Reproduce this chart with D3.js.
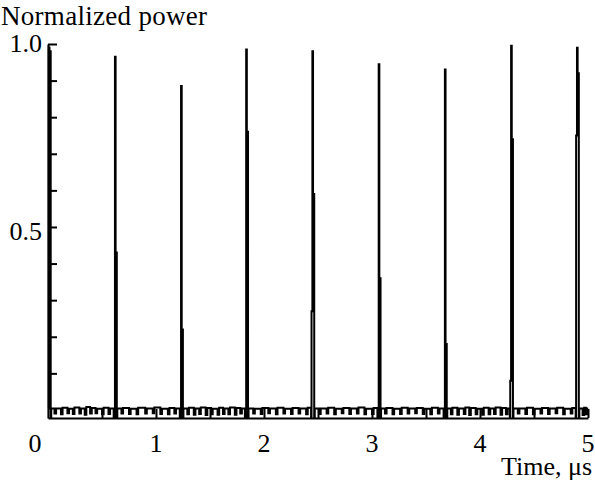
<!DOCTYPE html>
<html>
<head>
<meta charset="utf-8">
<script src="https://cdn.jsdelivr.net/npm/d3@7"></script>
</head>
<body style="margin:0">
<svg id="chart" width="595" height="487" style="font-family: 'Liberation Serif', serif; background: #fff"></svg>
<script>
// pulses (time in us, normalized power)
const pulseTimes = [0.008, 0.620, 1.232, 1.835, 2.448, 3.062, 3.675, 4.288, 4.898];
const pulsePeaks = [0.990, 0.965, 0.885, 0.985, 0.980, 0.945, 0.930, 0.995, 0.990];
const pulseTrail = [0.980, 0.430, 0.220, 0.760, 0.590, 0.360, 0.180, 0.740, 0.920];
const pulseLead  = [0, 0, 0, 0, 0.270, 0, 0, 0.080, 0.750];

// small noise dips along the baseline
const dipTimes = [0.06,0.12,0.18,0.23,0.29,0.34,0.39,0.44,0.50,0.56,
  0.68,0.75,0.82,0.90,0.97,1.04,1.11,1.17,
  1.29,1.35,1.40,1.46,1.51,1.57,1.62,1.67,1.73,1.78,
  1.90,1.97,2.04,2.11,2.18,2.25,2.32,2.39,
  2.51,2.58,2.65,2.72,2.79,2.86,2.93,3.00,
  3.12,3.19,3.26,3.33,3.40,3.47,3.54,3.61,
  3.73,3.79,3.85,3.90,3.96,4.02,4.08,4.13,4.19,4.24,
  4.35,4.42,4.49,4.56,4.63,4.70,4.77,4.84,
  4.95,4.98];
const dipDepths = [-0.010,-0.012,-0.009,-0.011,-0.010,-0.013,-0.010,-0.009,-0.012,-0.011,
  -0.010,-0.011,-0.012,-0.010,-0.009,-0.011,-0.012,-0.010,
  -0.012,-0.013,-0.011,-0.014,-0.012,-0.013,-0.011,-0.012,-0.013,-0.010,
  -0.010,-0.011,-0.009,-0.012,-0.010,-0.011,-0.010,-0.012,
  -0.011,-0.010,-0.012,-0.009,-0.011,-0.010,-0.012,-0.011,
  -0.010,-0.012,-0.011,-0.010,-0.009,-0.011,-0.012,-0.010,
  -0.012,-0.013,-0.011,-0.014,-0.012,-0.013,-0.012,-0.011,-0.013,-0.012,
  -0.010,-0.011,-0.012,-0.010,-0.011,-0.009,-0.012,-0.010,
  -0.014,-0.012];
const baseLevels = [0.004,0.006,0.003,0.007,0.004,0.008,0.005,0.003,0.006,0.004,
  0.005,0.003,0.006,0.004,0.007,0.003,0.005,0.004,
  0.006,0.004,0.007,0.005,0.003,0.006,0.004,0.007,0.005,0.004,
  0.003,0.005,0.004,0.006,0.003,0.005,0.004,0.006,
  0.004,0.006,0.003,0.005,0.004,0.007,0.003,0.005,
  0.005,0.003,0.006,0.004,0.005,0.003,0.006,0.004,
  0.006,0.004,0.007,0.005,0.003,0.006,0.004,0.007,0.005,0.004,
  0.004,0.006,0.003,0.005,0.004,0.006,0.003,0.005,
  0.006,0.004];

const yTicks = [0.1,0.2,0.3,0.4,0.5,0.6,0.7,0.8,0.9,1.0];
const yLabels = [0.5, 1.0];
const xTicks = [0.5,1,1.5,2,2.5,3,3.5,4,4.5,5];
const xLabels = [0,1,2,3,4,5];

const svg = d3.select("#chart");

const x = d3.scaleLinear().domain([0, 5]).range([48, 588]);
const y = d3.scaleLinear().domain([-0.022, 1.0]).range([418, 44]);

// build the trace
let pts = [[0, 0.004]];
dipTimes.forEach((t, i) => {
  pts.push([t, dipDepths[i]]);
  pts.push([t + 0.015, baseLevels[i]]);
});
pulseTimes.forEach((t, i) => {
  pts.push([t - 0.012, -0.02]);
  if (pulseLead[i] > 0) pts.push([t - 0.008, pulseLead[i]]);
  pts.push([t, pulsePeaks[i]]);
  pts.push([t + 0.006, pulseTrail[i]]);
  pts.push([t + 0.017, -0.02]);
  pts.push([t + 0.022, 0.004]);
});
pts.push([5, 0.004]);
pts = pts.filter(d => d[0] >= 0 && d[0] <= 5).sort((a, b) => a[0] - b[0]);

const line = d3.line()
  .x(d => x(d[0]))
  .y(d => y(d[1]))
  .curve(d3.curveStepAfter);

svg.append("path")
   .datum(pts)
   .attr("d", line)
   .attr("fill", "none")
   .attr("stroke", "#000")
   .attr("stroke-width", 2);

// axes
svg.append("g")
   .attr("transform", "translate(48,0)")
   .call(d3.axisRight(y).tickValues(yTicks).tickSize(9).tickSizeOuter(0).tickFormat(""));

svg.append("g")
   .attr("transform", "translate(0,418)")
   .call(d3.axisTop(x).tickValues(xTicks).tickSize(9).tickSizeOuter(0).tickFormat(""));

svg.selectAll(".domain").attr("stroke", "#000").attr("stroke-width", 2.2);
svg.selectAll(".tick line").attr("stroke", "#000").attr("stroke-width", 2);

// labels
const labels = svg.append("g")
   .attr("font-family", "Liberation Serif")
   .attr("font-size", 26);

labels.selectAll(".ylab")
   .data(yLabels)
   .enter().append("text")
   .attr("class", "ylab")
   .attr("x", 42)
   .attr("y", d => y(d) + (d === 1 ? 8 : 13))
   .attr("text-anchor", "end")
   .text(d => d.toFixed(1));

labels.selectAll(".xlab")
   .data(xLabels)
   .enter().append("text")
   .attr("class", "xlab")
   .attr("x", d => x(d) - (d === 0 ? 13 : 0))
   .attr("y", 452)
   .attr("text-anchor", "middle")
   .text(d => d);

labels.append("text")
   .attr("x", 1)
   .attr("y", 25)
   .attr("font-size", 27)
   .attr("textLength", 206)
   .text("Normalized power");

labels.append("text")
   .attr("x", 592)
   .attr("y", 475)
   .attr("text-anchor", "end")
   .text("Time, μs");
</script>
</body>
</html>
